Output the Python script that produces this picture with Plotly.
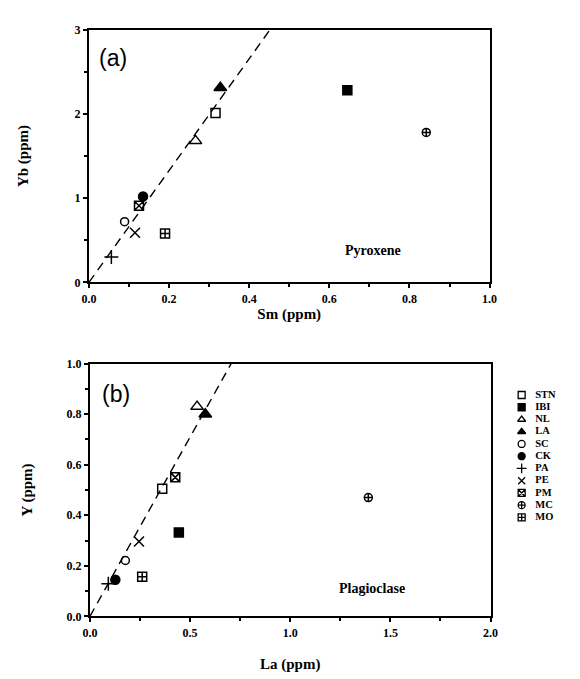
import plotly.graph_objects as go

# samples and their symbols
samples = ["STN", "IBI", "NL", "LA", "SC", "CK", "PA", "PE", "PM", "MC", "MO"]
symbols = ["square-open", "square", "triangle-up-open", "triangle-up", "circle-open",
           "circle", "cross-thin-open", "x-thin-open", "square-x-open",
           "circle-cross-open", "square-cross-open"]

# (a) pyroxene
sm_pyx = [0.316, 0.645, 0.266, 0.328, 0.089, 0.135, 0.056, 0.115, 0.125, 0.842, 0.19]
yb_pyx = [2.01, 2.28, 1.68, 2.31, 0.72, 1.02, 0.30, 0.59, 0.91, 1.78, 0.58]

# (b) plagioclase
la_plag = [0.361, 0.444, 0.535, 0.576, 0.177, 0.127, 0.092, 0.245, 0.426, 1.39, 0.261]
y_plag = [0.505, 0.332, 0.83, 0.80, 0.221, 0.145, 0.129, 0.296, 0.55, 0.47, 0.157]

# dashed trend lines
trend_a_x = [0, 0.452]
trend_a_y = [0, 3.0]
trend_b_x = [0, 0.705]
trend_b_y = [0, 1.0]

SERIF = "Liberation Serif"
sizes = [9, 9, 11, 11, 8, 9, 10, 10, 9, 8, 9]

fig = go.Figure()

for xs, ys, xa, ya in [(sm_pyx, yb_pyx, "x", "y"), (la_plag, y_plag, "x2", "y2")]:
    fig.add_trace(go.Scatter(
        x=xs, y=ys, mode="markers", xaxis=xa, yaxis=ya, showlegend=False,
        marker=dict(symbol=symbols, size=sizes, color="black", opacity=1,
                    line=dict(color="black", width=1.5)),
        cliponaxis=False,
    ))

fig.add_trace(go.Scatter(x=trend_a_x, y=trend_a_y, mode="lines", xaxis="x", yaxis="y",
                         line=dict(color="black", width=1.4, dash="9px,6px"),
                         showlegend=False))
fig.add_trace(go.Scatter(x=trend_b_x, y=trend_b_y, mode="lines", xaxis="x2", yaxis="y2",
                         line=dict(color="black", width=1.4, dash="9px,6px"),
                         showlegend=False))

# legend drawn on its own small axis
fig.add_trace(go.Scatter(
    x=[10] * len(samples), y=samples, mode="markers", xaxis="x3", yaxis="y3",
    showlegend=False,
    marker=dict(symbol=symbols, size=7, color="black", opacity=1,
                line=dict(color="black", width=1.3)),
))
fig.add_trace(go.Scatter(
    x=[24] * len(samples), y=samples, mode="text", text=samples,
    textposition="middle right", xaxis="x3", yaxis="y3", showlegend=False,
    textfont=dict(family=SERIF, size=10.5, color="black", weight="bold"),
))

tickfont = dict(family=SERIF, size=12, color="black", weight="bold")
titlefont = dict(family=SERIF, size=15, color="black", weight="bold")
common = dict(showgrid=False, zeroline=False, showline=True, linecolor="black",
              linewidth=2, mirror=True, ticks="outside", ticklen=4, tickwidth=1.5,
              tickcolor="black", tickfont=tickfont)

fig.update_layout(
    width=580, height=679,
    margin=dict(l=0, r=0, t=0, b=0),
    paper_bgcolor="white", plot_bgcolor="white",
    xaxis=dict(domain=[75 / 580, 487 / 580], anchor="y", range=[0, 1], dtick=0.2,
               tickformat=".1f", minor=dict(dtick=0.1, ticks="outside", ticklen=3, tickcolor="black"),
               title=dict(text="Sm (ppm)", font=titlefont, standoff=4), **common),
    yaxis=dict(domain=[1 - 273 / 679, 1 - 15 / 679], anchor="x", range=[0, 3], dtick=1,
               minor=dict(dtick=0.5, ticks="outside", ticklen=3, tickcolor="black"),
               title=dict(text="Yb (ppm)", font=titlefont, standoff=42), **common),
    xaxis2=dict(domain=[76 / 580, 488 / 580], anchor="y2", range=[0, 2], dtick=0.5,
                tickformat=".1f", minor=dict(dtick=0.25, ticks="outside", ticklen=3, tickcolor="black"),
                title=dict(text="La (ppm)", font=titlefont, standoff=20), **common),
    yaxis2=dict(domain=[1 - 614 / 679, 1 - 356 / 679], anchor="x2", range=[0, 1], dtick=0.2,
                tickformat=".1f", minor=dict(dtick=0.1, ticks="outside", ticklen=3, tickcolor="black"),
                title=dict(text="Y (ppm)", font=titlefont, standoff=30), **common),
    xaxis3=dict(domain=[510 / 580, 570 / 580], anchor="y3", range=[0, 60], visible=False),
    yaxis3=dict(domain=[1 - 519.25 / 679, 1 - 381.75 / 679], anchor="x3",
                range=[10.5, -0.5], visible=False, type="category"),
    annotations=[
        dict(text="(a)", x=0.06, y=2.66, xref="x", yref="y", showarrow=False,
             font=dict(family="Liberation Sans", size=23, color="black")),
        dict(text="(b)", x=0.13, y=0.88, xref="x2", yref="y2", showarrow=False,
             font=dict(family="Liberation Sans", size=23, color="black")),
        dict(text="Pyroxene", x=0.709, y=0.38, xref="x", yref="y", showarrow=False,
             font=dict(family=SERIF, size=14, color="black", weight="bold")),
        dict(text="Plagioclase", x=1.41, y=0.11, xref="x2", yref="y2", showarrow=False,
             font=dict(family=SERIF, size=14, color="black", weight="bold")),
    ],
)

fig.write_html("out.html")
